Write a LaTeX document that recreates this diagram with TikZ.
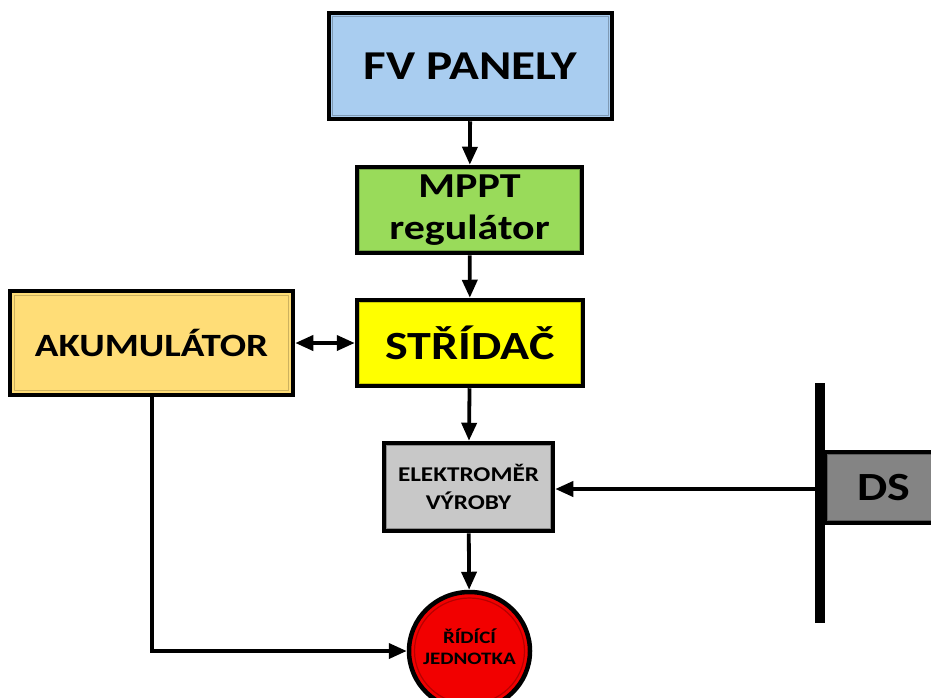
\documentclass[tikz,border=0pt]{standalone}
\usepackage{fontspec}
\setmainfont{Carlito}[FakeStretch=1.2]
\usetikzlibrary{arrows.meta,shapes.geometric}
\definecolor{fvblue}{HTML}{A9CDF0}
\definecolor{mpptgreen}{HTML}{99DB5A}
\definecolor{stryellow}{HTML}{FFFF00}
\definecolor{akuorange}{HTML}{FFDD77}
\definecolor{elgray}{HTML}{C8C8C8}
\definecolor{dsgray}{HTML}{848484}
\definecolor{rjred}{HTML}{F20000}
\tikzset{
  blk/.style={draw=black, line width=4.5pt, inner sep=0pt, align=center, font=\bfseries},
  conn/.style={line width=3.8pt, -{Triangle[length=18pt,width=15pt]}},
  bevel/.style={line width=1.2pt}
}
\begin{document}
\begin{tikzpicture}[x=1pt,y=-1pt]
\useasboundingbox (0,0) rectangle (931,697);
\clip (0,0) rectangle (931,697);
% boxes
\node[blk, fill=fvblue, minimum width=283pt, minimum height=106pt, font=\bfseries\fontsize{41}{44}\selectfont] (fv) at (470.5,66) {FV PANELY};
\draw[bevel, draw=fvblue!75!black] ([shift={(6pt,-6pt)}]fv.north west) rectangle ([shift={(-6pt,6pt)}]fv.south east);
\node[blk, fill=mpptgreen, minimum width=225pt, minimum height=86pt, font=\bfseries\fontsize{35}{42}\selectfont] (mppt) at (469.5,210) {MPPT\\regulátor};
\draw[bevel, draw=mpptgreen!75!black] ([shift={(5pt,-5pt)}]mppt.north west) rectangle ([shift={(-5pt,5pt)}]mppt.south east);
\node[blk, fill=stryellow, minimum width=226pt, minimum height=86pt, font=\bfseries\fontsize{40}{42}\selectfont] (str) at (470,343) {STŘÍDAČ};
\draw[bevel, draw=stryellow!80!black] ([shift={(5pt,-5pt)}]str.north west) rectangle ([shift={(-5pt,5pt)}]str.south east);
\node[blk, fill=akuorange, minimum width=283pt, minimum height=104pt, font=\bfseries\fontsize{32.5}{34}\selectfont] (aku) at (151.5,343) {AKUMULÁTOR};
\draw[bevel, draw=akuorange!80!black] ([shift={(7pt,-7pt)}]aku.north west) rectangle ([shift={(-7pt,7pt)}]aku.south east);
\node[blk, fill=elgray, minimum width=169pt, minimum height=88pt, font=\bfseries\fontsize{21}{28}\selectfont] (el) at (468.5,487) {ELEKTROMĚR\\VÝROBY};
\draw[bevel, draw=elgray!70!black] ([shift={(5pt,-5pt)}]el.north west) rectangle ([shift={(-5pt,5pt)}]el.south east);
\node[ellipse, draw=black, line width=4.5pt, fill=rjred, minimum width=121pt, minimum height=118pt, inner sep=0pt, align=center, font=\bfseries\fontsize{17.5}{21}\selectfont] (rj) at (469.5,651) {};
\node[align=center, font=\bfseries\fontsize{17.5}{21}\selectfont, inner sep=0pt] (rjtext) at (469.5,647) {ŘÍDÍCÍ\\JEDNOTKA};
\draw[bevel, draw=rjred!75!black] (rj.center) ellipse [x radius=55pt, y radius=53pt];
% DS
\node[blk, fill=dsgray, minimum width=130pt, minimum height=71pt, font=\bfseries\fontsize{40}{42}\selectfont, text width=110pt, align=left] (ds) at (890,487.5) {\hspace*{22pt}DS};
\draw[bevel, draw=dsgray!70!black] ([shift={(5pt,-5pt)}]ds.north west) rectangle ([shift={(-5pt,5pt)}]ds.south east);
\coordinate (bustop) at (820,383);
\coordinate (busbot) at (820,623);
\draw[line width=10pt] (bustop) -- (busbot);
\coordinate (busjoin) at (816,489);
% connectors
\draw[conn] (fv) -- (mppt);
\draw[conn] (mppt) -- (str);
\draw[conn] (str) -- (el);
\draw[conn] (el) -- (rj);
\draw[conn] (busjoin) -- (el.east |- busjoin);
\draw[line width=3.8pt, {Triangle[length=18pt,width=15pt]}-{Triangle[length=18pt,width=15pt]}] (aku.east) -- (str.west);
\draw[conn] (aku.south -| 152,0) |- (rj.west);
\end{tikzpicture}
\end{document}
